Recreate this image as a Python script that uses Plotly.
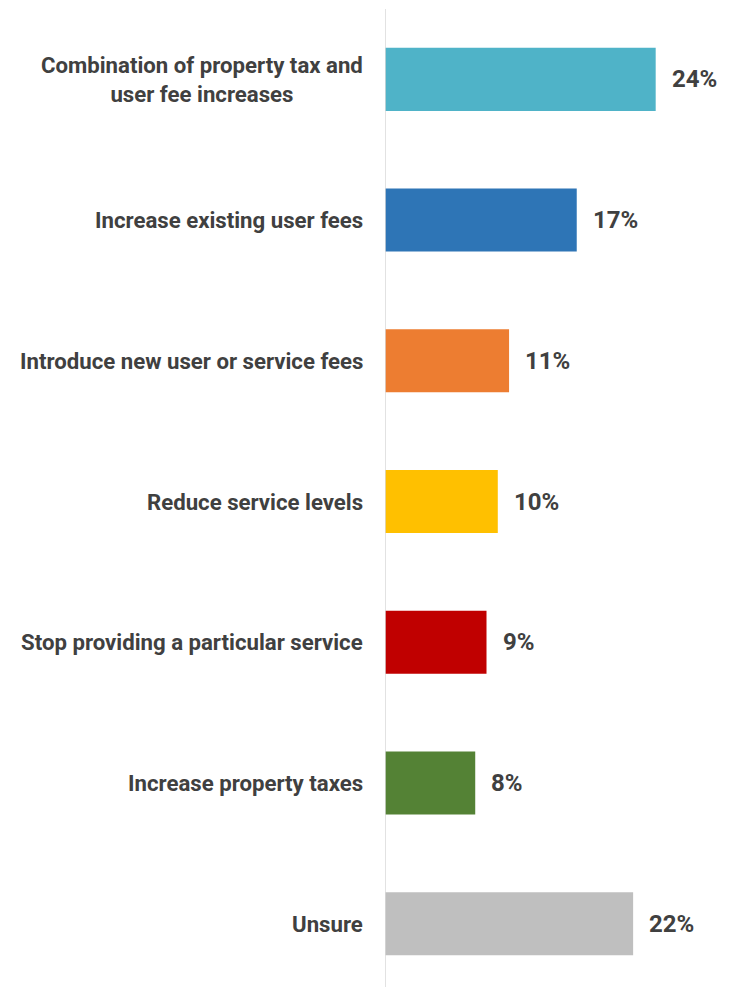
import plotly.graph_objects as go

# Survey responses: preferred way to address a budget shortfall
categories = [
    "Combination of property tax and<br>user fee increases",
    "Increase existing user fees",
    "Introduce new user or service fees",
    "Reduce service levels",
    "Stop providing a particular service",
    "Increase property taxes",
    "Unsure",
]
values = [24, 17, 11, 10, 9, 8, 22]
bar_colors = ["#4FB3C8", "#2E75B6", "#ED7D31", "#FFC000", "#C00000", "#548235", "#BFBFBF"]

FONT = "Roboto, sans-serif"
TEXT_COLOR = "#404040"

y_idx = list(range(len(categories)))

fig = go.Figure(
    go.Bar(
        x=values,
        y=y_idx,
        orientation="h",
        marker=dict(color=bar_colors, line=dict(width=0)),
        hoverinfo="skip",
    )
)

annotations = []
for i, (cat, v) in enumerate(zip(categories, values)):
    # category label to the left of the axis
    annotations.append(dict(
        x=0, xref="x", y=i, yref="y",
        text=f"<b>{cat}</b>", showarrow=False,
        xanchor="right", yanchor="middle", align="center",
        xshift=-20,
        font=dict(family=FONT, size=22.2, color=TEXT_COLOR),
    ))
    # value label at the end of each bar
    annotations.append(dict(
        x=v, xref="x", y=i, yref="y",
        text=f"<b>{v}%</b>", showarrow=False,
        xanchor="left", yanchor="middle",
        xshift=14,
        font=dict(family=FONT, size=24, color=TEXT_COLOR),
    ))

fig.update_layout(
    width=729, height=987,
    margin=dict(l=385, r=0, t=9, b=0),
    paper_bgcolor="white", plot_bgcolor="white",
    bargap=0.552,
    showlegend=False,
    annotations=annotations,
    xaxis=dict(range=[0, 30.5], visible=False, fixedrange=True),
    yaxis=dict(
        range=[6.45, -0.5],
        showticklabels=False, showgrid=False, zeroline=False,
        showline=False, ticks="",
        fixedrange=True,
    ),
    shapes=[dict(
        type="line", xref="x", yref="paper",
        x0=0, x1=0, y0=0, y1=1,
        line=dict(color="#D9D9D9", width=1.5),
    )],
)

fig.write_html("out.html")
